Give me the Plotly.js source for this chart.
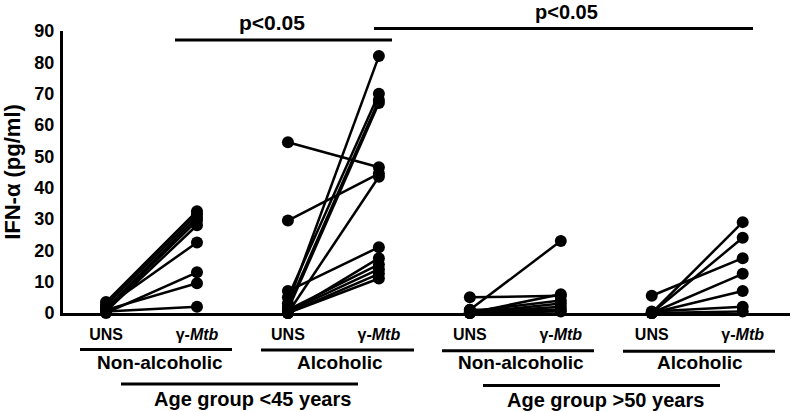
<!DOCTYPE html>
<html>
<head>
<meta charset="utf-8">
<script src="https://cdn.plot.ly/plotly-3.0.1.min.js"></script>
<style>html,body{margin:0;padding:0;background:#fff;}#chart{width:791px;height:412px;}</style>
</head>
<body>
<div id="chart"></div>
<script>
// Category tick labels (x positions 0..7)
const tickLabels = ["UNS", "γ-<i>Mtb</i>", "UNS", "γ-<i>Mtb</i>", "UNS", "γ-<i>Mtb</i>", "UNS", "γ-<i>Mtb</i>"];

// Paired values (UNS -> γ-Mtb) per group, IFN-α pg/ml
const nonAlc45_UNS = [3.5, 2.5, 1.5, 1, 0.5, 2, 0, 1, 0.5];
const nonAlc45_Mtb = [32.5, 31.5, 30.5, 29.5, 28, 22.5, 13, 9.5, 2];

const alc45_UNS = [54.5, 29.5, 3, 5, 2, 1, 0, 7, 0, 1, 0.5, 0, 0];
const alc45_Mtb = [46.5, 44.5, 82, 70, 68, 67, 43.5, 21, 17.5, 15.5, 14, 12.5, 11];

const nonAlc50_UNS = [5, 1, 0, 0.5, 0, 0, 1, 0];
const nonAlc50_Mtb = [5.5, 23, 6, 4, 3, 2, 1, 0.5];

const alc50_UNS = [5.5, 0, 0, 0, 0, 0.5, 0];
const alc50_Mtb = [17.5, 29, 24, 12.5, 7, 2, 0.5];

const groupNames = ["Non-alcoholic", "Alcoholic", "Non-alcoholic", "Alcoholic"];
const ageNames = ["Age group &lt;45 years", "Age group &gt;50 years"];
const pLabel = "p<0.05";

const groups = [
  [nonAlc45_UNS, nonAlc45_Mtb],
  [alc45_UNS, alc45_Mtb],
  [nonAlc50_UNS, nonAlc50_Mtb],
  [alc50_UNS, alc50_Mtb]
];

const FONT = "Liberation Sans, Arial, sans-serif";
const traces = groups.map(function (g, gi) {
  const xs = [], ys = [];
  for (let i = 0; i < g[0].length; i++) {
    xs.push(2 * gi, 2 * gi + 1, null);
    ys.push(g[0][i], g[1][i], null);
  }
  return {
    x: xs, y: ys, type: "scatter", mode: "lines+markers",
    line: {color: "#000", width: 2.5},
    marker: {color: "#000", size: 12},
    cliponaxis: false, showlegend: false, hoverinfo: "skip"
  };
});

// pixel -> paper helpers (plot area: x 63..790, y 31..313)
const L = 63, W = 727, T = 31, H = 282;
const px = v => (v - L) / W;
const py = v => (313 - v) / H;

const shapes = [];
const annotations = [];
function hline(x0, x1, y, w) {
  shapes.push({type: "line", xref: "paper", yref: "paper", x0: px(x0), x1: px(x1), y0: py(y), y1: py(y),
    line: {color: "#000", width: w || 3}});
}
function label(text, x, y, size) {
  annotations.push({text: text, xref: "paper", yref: "paper", x: px(x), y: py(y), xanchor: "center", yanchor: "middle",
    showarrow: false, font: {family: FONT, size: size, color: "#000", weight: "bold"}});
}
// significance bars
hline(175, 392, 40);
hline(374, 753, 28.5);
label(pLabel, 272, 22, 21);
label(pLabel, 566, 12, 20);
// group bars
const gLines = [[80, 232], [261, 414], [442, 594], [623, 775]];
const gCenters = [160, 340, 521, 700];
gLines.forEach((l, i) => { hline(l[0], l[1], 349.5 + i * 0.6); label(groupNames[i], gCenters[i], 362.5, 19); });
// age bars
hline(121, 358, 384);
hline(483, 720, 385.5);
label(ageNames[0], 252, 399, 20);
label(ageNames[1], 605, 400, 20);

const layout = {
  width: 791, height: 412,
  margin: {l: 63, r: 1, t: 31, b: 99},
  paper_bgcolor: "#fff", plot_bgcolor: "#fff",
  font: {family: FONT, color: "#000"},
  xaxis: {
    range: [-0.473, 7.52], showgrid: false, zeroline: false,
    showline: true, linecolor: "#000", linewidth: 3,
    tickvals: [0, 1, 2, 3, 4, 5, 6, 7], ticktext: tickLabels,
    ticks: "", ticklabelstandoff: 5,
    tickfont: {family: FONT, size: 16, color: "#000", weight: "bold"}
  },
  yaxis: {
    range: [0, 90], showgrid: false, zeroline: false,
    showline: true, linecolor: "#000", linewidth: 3,
    tickvals: [0, 10, 20, 30, 40, 50, 60, 70, 80, 90],
    ticks: "", ticklabelstandoff: 2,
    tickfont: {family: FONT, size: 18, color: "#000", weight: "bold"},
    title: {text: "IFN-α (pg/ml)", standoff: 8, font: {family: FONT, size: 22, color: "#000", weight: "bold"}}
  },
  shapes: shapes,
  annotations: annotations
};

Plotly.newPlot("chart", traces, layout, {displayModeBar: false, staticPlot: true});
</script>
</body>
</html>
